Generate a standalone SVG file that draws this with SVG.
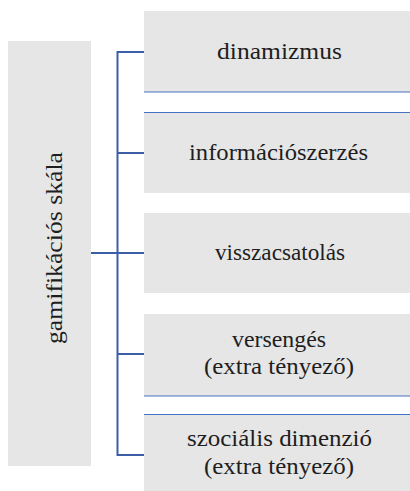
<svg xmlns="http://www.w3.org/2000/svg" width="410" height="491" viewBox="0 0 410 491">
  <style>
    .box { fill: #E6E6E6; }
    text { font-family: 'Liberation Serif', 'Times New Roman', Times, serif; font-size: 23px; font-weight: 400; fill: #1E1E1E; text-anchor: middle; }
    .conn { stroke: #3B5EA6; stroke-width: 2; fill: none; }
    .sep { stroke: #4472C4; stroke-width: 1.2; }
  </style>
  <rect width="410" height="491" fill="#FFFFFF"/>
  <g id="root">
    <rect class="box" x="8" y="41" width="83" height="425"/>
    <text transform="translate(62,248) rotate(-90)" textLength="192" lengthAdjust="spacingAndGlyphs">gamifikációs skála</text>
  </g>
  <g id="connectors">
    <path class="conn" d="M144,52 H117.5 V455 H144"/>
    <path class="conn" d="M117.5,153 H144 M117.5,354 H144"/>
    <path class="conn" d="M91,253 H144"/>
  </g>
  <g id="n1">
    <rect class="box" x="144" y="11" width="266" height="81"/>
    <line class="sep" x1="144" y1="92" x2="410" y2="92"/>
    <text x="279.5" y="59" textLength="125" lengthAdjust="spacingAndGlyphs">dinamizmus</text>
  </g>
  <g id="n2">
    <rect class="box" x="144" y="112" width="266" height="81"/>
    <line class="sep" x1="144" y1="112.5" x2="410" y2="112.5"/>
    <text x="278.5" y="160" textLength="179" lengthAdjust="spacingAndGlyphs">információszerzés</text>
  </g>
  <g id="n3">
    <rect class="box" x="144" y="213" width="266" height="80"/>
    <text x="280" y="260" textLength="130" lengthAdjust="spacingAndGlyphs">visszacsatolás</text>
  </g>
  <g id="n4">
    <rect class="box" x="144" y="314" width="266" height="82"/>
    <line class="sep" x1="144" y1="396" x2="410" y2="396"/>
    <text x="279" y="347" textLength="94" lengthAdjust="spacingAndGlyphs">versengés</text>
    <text x="279" y="374" textLength="150" lengthAdjust="spacingAndGlyphs">(extra tényező)</text>
  </g>
  <g id="n5">
    <rect class="box" x="144" y="414" width="266" height="77"/>
    <line class="sep" x1="144" y1="414.5" x2="410" y2="414.5"/>
    <text x="279.5" y="446" textLength="185" lengthAdjust="spacingAndGlyphs">szociális dimenzió</text>
    <text x="279" y="474" textLength="150" lengthAdjust="spacingAndGlyphs">(extra tényező)</text>
  </g>
</svg>
